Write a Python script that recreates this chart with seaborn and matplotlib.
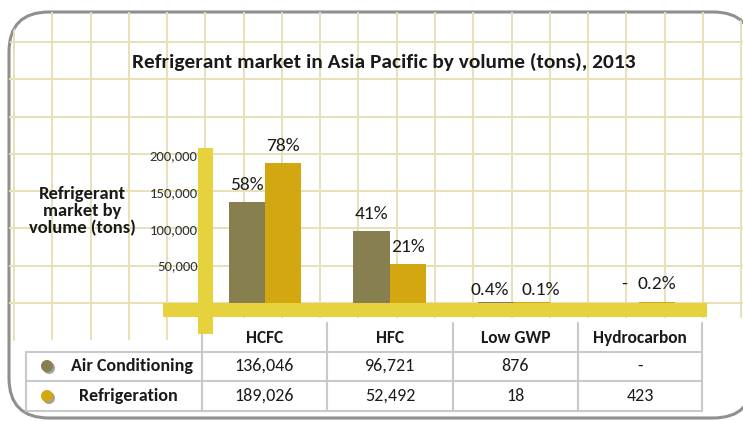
import numpy as np
import pandas as pd
import matplotlib
matplotlib.use("Agg")
import matplotlib.pyplot as plt
import seaborn as sns
from matplotlib.patches import FancyBboxPatch, Rectangle, Ellipse

technologies = ["HCFC", "HFC", "Low GWP", "Hydrocarbon"]
segments = ["Air Conditioning", "Refrigeration"]
ac_tons = [136046, 96721, 876, 0]
refrig_tons = [189026, 52492, 18, 423]
ac_share = ["58%", "41%", "0.4%", "-"]
refrig_share = ["78%", "21%", "0.1%", "0.2%"]
y_ticks = [50000, 100000, 150000, 200000]

olive = "#877f4f"
gold = "#d3a70f"
yellow = "#e6d23c"
grid_col = "#e8e0b8"
ink = "#1a1a1a"
W, H = 743, 421

sns.set_theme(style="white")
plt.rcParams["font.family"] = ["Carlito", "DejaVu Sans"]

df = pd.DataFrame({
    "Technology": technologies * 2,
    "Segment": [segments[0]] * 4 + [segments[1]] * 4,
    "Tons": ac_tons + refrig_tons,
})

fig = plt.figure(figsize=(W / 100, H / 100), dpi=100)

# background layer in pixel coordinates (graph paper, frame, table)
bg = fig.add_axes([0, 0, 1, 1])
bg.set_xlim(0, W)
bg.set_ylim(H, 0)
bg.axis("off")

frame = FancyBboxPatch((9, 12), 744, 406, boxstyle="round,pad=0,rounding_size=40",
                       facecolor="white", edgecolor="#8f8f8f", lw=2.2, zorder=0.5)
bg.add_patch(frame)
clip = FancyBboxPatch((9, 12), 744, 406, boxstyle="round,pad=0,rounding_size=40",
                      facecolor="none", edgecolor="none", transform=bg.transData)
bg.add_patch(clip)
for gx in 14 + 38.27 * np.arange(20):
    ln, = bg.plot([gx, gx], [10, 340], color=grid_col, lw=1.4, zorder=1)
    ln.set_clip_path(clip)
for gy in 303 - 37.3 * np.arange(8):
    ln, = bg.plot([0, W], [gy, gy], color=grid_col, lw=1.4, zorder=1)
    ln.set_clip_path(clip)

# table background
bg.add_patch(Rectangle((202, 318), 541, 34, facecolor="white", edgecolor="none", zorder=2))
bg.add_patch(Rectangle((26, 340), 676, 71, facecolor="white", edgecolor="none", zorder=2))

# yellow axis bars
bg.add_patch(Rectangle((163, 302.5), 544, 14.5, facecolor=yellow, edgecolor="none", zorder=3))
bg.add_patch(Rectangle((198, 148), 15, 186, facecolor=yellow, edgecolor="none", zorder=3))

# table lines
tl = dict(color="#c9c9c9", lw=1.5, zorder=4)
bg.plot([26, 702], [352, 352], **tl)
bg.plot([26, 702], [381, 381], **tl)
bg.plot([26, 702], [411, 411], **tl)
bg.plot([26, 26], [352, 411], **tl)
bg.plot([202, 202], [334, 411], **tl)
for cx in [327, 453, 578, 702]:
    bg.plot([cx, cx], [323, 411], **tl)

col_centers = [264.5, 390, 515.5, 640]
for cx, tech in zip(col_centers, technologies):
    bg.text(cx, 338, tech, ha="center", va="center", fontsize=12.5, fontweight="bold",
            color=ink, zorder=5)
for cx, a, r in zip(col_centers, ac_tons, refrig_tons):
    bg.text(cx, 366, f"{a:,}" if a else "-", ha="center", va="center", fontsize=13,
            color=ink, zorder=5)
    bg.text(cx, 396, f"{r:,}" if r else "-", ha="center", va="center", fontsize=13,
            color=ink, zorder=5)

for cy, seg, col, lx in zip([366, 396], segments, [olive, gold], [132, 128]):
    bg.add_patch(Ellipse((49, cy + 2), 12, 12, facecolor="#a0a0a0", edgecolor="none", zorder=4))
    bg.add_patch(Ellipse((47, cy), 12, 12, facecolor=col, edgecolor="none", zorder=5))
    bg.text(lx, cy, seg, ha="center", va="center", fontsize=13, fontweight="bold",
            color=ink, zorder=5)

bg.text(384, 62, "Refrigerant market in Asia Pacific by volume (tons), 2013", ha="center",
        va="center", fontsize=15.4, fontweight="bold", color=ink, zorder=5)
bg.text(82, 211, "Refrigerant\nmarket by\nvolume (tons)", ha="center", va="center",
        fontsize=13.3, fontweight="bold", color=ink, linespacing=1.08, zorder=5)

# bar chart layer
ax = fig.add_axes([213 / W, (H - 302.5) / H, (706 - 213) / W, (302.5 - 155) / H])
ax.set_zorder(2)
ax.patch.set_alpha(0)
sns.barplot(data=df, x="Technology", y="Tons", hue="Segment", palette=[olive, gold],
            width=0.58, saturation=1, legend=False, linewidth=0, ax=ax)
ax.set_xlim((213 - 265) / 124.5, (706 - 265) / 124.5)
ax.set_ylim(0, 200000)
sns.despine(ax=ax, left=True, bottom=True)
ax.set_xticks([])
ax.set_xlabel("")
ax.set_ylabel("")
ax.set_yticks(y_ticks)
ax.set_yticklabels([f"{t:,}" for t in y_ticks], fontsize=10.5, color="#333333")
ax.tick_params(axis="y", length=0, pad=11)

# px nudges for the labels of the tiny bars
nudge = {"0.4%": (-6, 7), "0.1%": (9, 7), "-": (4, 14), "0.2%": (0, 13)}
for cont, labels in zip(ax.containers, [ac_share, refrig_share]):
    for bar, lab in zip(cont, labels):
        dx, dy = nudge.get(lab, (0, 12))
        ax.annotate(lab, (bar.get_x() + bar.get_width() / 2, bar.get_height()),
                    xytext=(dx * 0.72, dy * 0.72), textcoords="offset points",
                    ha="center", va="baseline", fontsize=14, color=ink,
                    annotation_clip=False)

fig.savefig("out.png", dpi=100)
